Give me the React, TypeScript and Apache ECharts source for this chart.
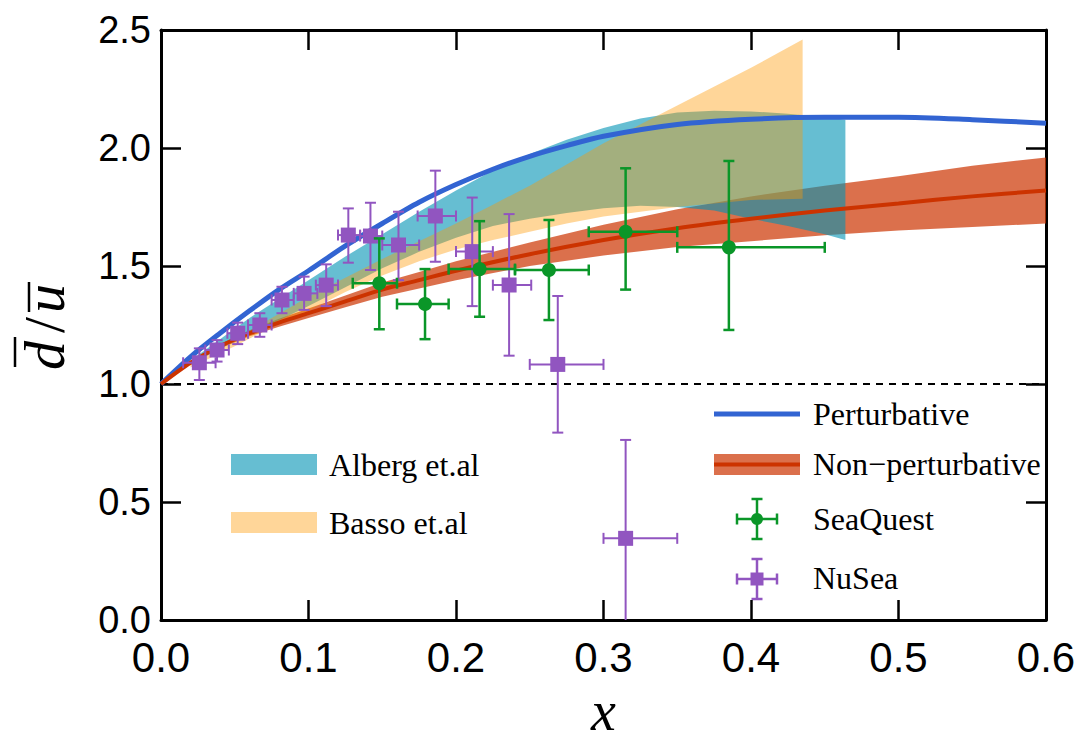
import React, { useEffect, useRef } from "react";
import * as echarts from "echarts";

// ---------- data ----------
const xTickLabels = ["0.0", "0.1", "0.2", "0.3", "0.4", "0.5", "0.6"];
const yTickLabels = ["0.0", "0.5", "1.0", "1.5", "2.0", "2.5"];

// Perturbative curve
const pertX = [0, 0.02, 0.04, 0.06, 0.08, 0.1, 0.125, 0.15, 0.175, 0.2, 0.225, 0.25, 0.275, 0.3, 0.35, 0.4, 0.45, 0.5, 0.55, 0.6];
const pertY = [1.0, 1.115, 1.215, 1.31, 1.4, 1.48, 1.585, 1.68, 1.77, 1.845, 1.91, 1.965, 2.01, 2.05, 2.1, 2.122, 2.13, 2.13, 2.12, 2.105];

// Non-perturbative curve and band
const npX = [0, 0.02, 0.04, 0.06, 0.08, 0.1, 0.125, 0.15, 0.175, 0.2, 0.25, 0.3, 0.35, 0.4, 0.45, 0.5, 0.55, 0.6];
const npY = [1.0, 1.09, 1.16, 1.215, 1.26, 1.3, 1.35, 1.4, 1.44, 1.48, 1.55, 1.61, 1.66, 1.7, 1.735, 1.765, 1.795, 1.82];
const npHi = [1.0, 1.095, 1.17, 1.228, 1.277, 1.32, 1.375, 1.43, 1.475, 1.52, 1.6, 1.675, 1.74, 1.795, 1.84, 1.88, 1.925, 1.96];
const npLo = [1.0, 1.085, 1.15, 1.202, 1.243, 1.28, 1.325, 1.37, 1.405, 1.44, 1.5, 1.545, 1.58, 1.605, 1.63, 1.65, 1.665, 1.68];

// Alberg et.al band
const albX = [0.02, 0.04, 0.06, 0.08, 0.1, 0.125, 0.15, 0.175, 0.2, 0.225, 0.25, 0.275, 0.3, 0.325, 0.35, 0.375, 0.4, 0.425, 0.45, 0.464];
const albHi = [1.1, 1.19, 1.28, 1.36, 1.44, 1.54, 1.635, 1.73, 1.82, 1.905, 1.975, 2.035, 2.085, 2.125, 2.15, 2.158, 2.155, 2.145, 2.13, 2.12];
const albLo = [1.08, 1.15, 1.21, 1.27, 1.33, 1.41, 1.49, 1.56, 1.62, 1.67, 1.7, 1.725, 1.745, 1.755, 1.75, 1.735, 1.7, 1.67, 1.635, 1.61];

// Basso et.al band
const basX = [0.02, 0.05, 0.075, 0.1, 0.125, 0.15, 0.175, 0.2, 0.225, 0.25, 0.275, 0.3, 0.35, 0.4, 0.435];
const basHi = [1.08, 1.19, 1.28, 1.37, 1.45, 1.53, 1.605, 1.68, 1.76, 1.84, 1.93, 2.02, 2.18, 2.34, 2.46];
const basLo = [1.07, 1.16, 1.24, 1.31, 1.39, 1.46, 1.52, 1.57, 1.61, 1.645, 1.68, 1.71, 1.75, 1.78, 1.785];

// SeaQuest
const sqX = [0.148, 0.179, 0.216, 0.263, 0.315, 0.385];
const sqY = [1.427, 1.339, 1.487, 1.483, 1.645, 1.579];
const sqXLo = [0.13, 0.16, 0.195, 0.24, 0.29, 0.35];
const sqXHi = [0.16, 0.195, 0.24, 0.29, 0.35, 0.45];
const sqYLo = [1.232, 1.19, 1.285, 1.271, 1.4, 1.229];
const sqYHi = [1.617, 1.487, 1.69, 1.695, 1.914, 1.945];

// NuSea
const nsX = [0.026, 0.038, 0.052, 0.067, 0.082, 0.097, 0.112, 0.127, 0.142, 0.161, 0.186, 0.211, 0.236, 0.269, 0.315];
const nsY = [1.09, 1.144, 1.215, 1.25, 1.356, 1.384, 1.419, 1.631, 1.627, 1.589, 1.712, 1.561, 1.419, 1.083, 0.346];
const nsXLo = [0.015, 0.03, 0.045, 0.059, 0.075, 0.09, 0.105, 0.12, 0.135, 0.15, 0.174, 0.2, 0.225, 0.25, 0.3];
const nsXHi = [0.037, 0.046, 0.059, 0.075, 0.09, 0.106, 0.12, 0.135, 0.15, 0.175, 0.2, 0.225, 0.251, 0.3, 0.35];
const nsYLo = [1.017, 1.095, 1.169, 1.2, 1.3, 1.314, 1.33, 1.514, 1.483, 1.44, 1.518, 1.33, 1.12, 0.794, -0.3];
const nsYHi = [1.151, 1.186, 1.26, 1.3, 1.412, 1.455, 1.507, 1.744, 1.768, 1.73, 1.904, 1.79, 1.72, 1.373, 0.763];

const refX = [0, 0.6];
const refY = [1.0, 1.0];

// ---------- styles ----------
const BLUE = "#3264d2";
const RED = "#cc3300";
const RED_BAND = "rgba(204,51,0,0.7)";
const CYAN_BAND = "rgba(0,147,180,0.6)";
const ORANGE_BAND = "rgba(255,152,0,0.4)";
const GREEN = "#0a9628";
const PURPLE = "#9155c0";
const SERIF = "'Liberation Serif', 'Times New Roman', serif";
const SANS = "'Liberation Sans', Arial, sans-serif";

function bandSeries(name: string, xs: number[], lo: number[], hi: number[], color: string, z: number) {
  return {
    type: "custom",
    name,
    z,
    silent: true,
    clip: true,
    data: xs.map((x, i) => [x, lo[i], hi[i]]),
    encode: { x: 0, y: [1, 2] },
    renderItem: (params: any, api: any) => {
      if (params.dataIndex !== 0) return null;
      const pts: number[][] = [];
      for (let i = 0; i < xs.length; i++) pts.push(api.coord([xs[i], hi[i]]));
      for (let i = xs.length - 1; i >= 0; i--) pts.push(api.coord([xs[i], lo[i]]));
      return { type: "polygon", shape: { points: pts }, style: { fill: color } };
    },
  };
}

function errSeries(
  name: string, xs: number[], ys: number[], xlo: number[], xhi: number[], ylo: number[], yhi: number[],
  color: string, marker: "circle" | "square", lw: number, z: number
) {
  return {
    type: "custom",
    name,
    z,
    clip: true,
    data: xs.map((x, i) => [x, ys[i], xlo[i], xhi[i], ylo[i], yhi[i]]),
    encode: { x: [0, 2, 3], y: [1, 4, 5] },
    renderItem: (params: any, api: any) => {
      const x = api.value(0), y = api.value(1);
      const c = api.coord([x, y]);
      const l = api.coord([api.value(2), y]);
      const r = api.coord([api.value(3), y]);
      const b = api.coord([x, api.value(4)]);
      const t = api.coord([x, api.value(5)]);
      const cap = 5.5;
      const ls = { stroke: color, lineWidth: lw };
      const children: any[] = [
        { type: "line", shape: { x1: l[0], y1: c[1], x2: r[0], y2: c[1] }, style: ls },
        { type: "line", shape: { x1: l[0], y1: c[1] - cap, x2: l[0], y2: c[1] + cap }, style: ls },
        { type: "line", shape: { x1: r[0], y1: c[1] - cap, x2: r[0], y2: c[1] + cap }, style: ls },
        { type: "line", shape: { x1: c[0], y1: t[1], x2: c[0], y2: b[1] }, style: ls },
        { type: "line", shape: { x1: c[0] - cap, y1: t[1], x2: c[0] + cap, y2: t[1] }, style: ls },
        { type: "line", shape: { x1: c[0] - cap, y1: b[1], x2: c[0] + cap, y2: b[1] }, style: ls },
      ];
      if (marker === "circle") {
        children.push({ type: "circle", shape: { cx: c[0], cy: c[1], r: 7 }, style: { fill: color } });
      } else {
        children.push({ type: "rect", shape: { x: c[0] - 7.5, y: c[1] - 7.5, width: 15, height: 15 }, style: { fill: color } });
      }
      return { type: "group", children };
    },
  };
}

function legendGraphics() {
  const txt = (x: number, y: number, s: string) => ({
    type: "text", x, y,
    style: { text: s, fill: "#000", font: `32px ${SERIF}`, verticalAlign: "middle", align: "left" },
  });
  const errMarker = (cx: number, cy: number, color: string, marker: string) => {
    const ls = { stroke: color, lineWidth: 2.5 };
    const cap = 5.5;
    const items: any[] = [
      { type: "line", shape: { x1: cx - 20, y1: cy, x2: cx + 20, y2: cy }, style: ls },
      { type: "line", shape: { x1: cx - 20, y1: cy - cap, x2: cx - 20, y2: cy + cap }, style: ls },
      { type: "line", shape: { x1: cx + 20, y1: cy - cap, x2: cx + 20, y2: cy + cap }, style: ls },
      { type: "line", shape: { x1: cx, y1: cy - 20, x2: cx, y2: cy + 20 }, style: ls },
      { type: "line", shape: { x1: cx - cap, y1: cy - 20, x2: cx + cap, y2: cy - 20 }, style: ls },
      { type: "line", shape: { x1: cx - cap, y1: cy + 20, x2: cx + cap, y2: cy + 20 }, style: ls },
    ];
    if (marker === "circle") items.push({ type: "circle", shape: { cx, cy, r: 6 }, style: { fill: color } });
    else items.push({ type: "rect", shape: { x: cx - 6.5, y: cy - 6.5, width: 13, height: 13 }, style: { fill: color } });
    return items;
  };
  return [
    { type: "rect", shape: { x: 231, y: 454, width: 86, height: 21 }, style: { fill: CYAN_BAND } },
    txt(329, 465, "Alberg et.al"),
    { type: "rect", shape: { x: 231, y: 512, width: 86, height: 21 }, style: { fill: ORANGE_BAND } },
    txt(329, 523, "Basso et.al"),
    { type: "line", shape: { x1: 714, y1: 414, x2: 800, y2: 414 }, style: { stroke: BLUE, lineWidth: 5 } },
    txt(813, 414, "Perturbative"),
    { type: "rect", shape: { x: 714, y: 454, width: 86, height: 21 }, style: { fill: RED_BAND } },
    { type: "line", shape: { x1: 714, y1: 464.5, x2: 800, y2: 464.5 }, style: { stroke: RED, lineWidth: 4 } },
    txt(813, 464, "Non\u2212perturbative"),
    ...errMarker(757, 519, GREEN, "circle"),
    txt(813, 519, "SeaQuest"),
    ...errMarker(757, 579, PURPLE, "square"),
    txt(813, 578, "NuSea"),
  ];
}

function yNameGraphic() {
  const fs = 58;
  const font = `italic ${fs}px ${SERIF}`;
  return {
    type: "group",
    x: 63,
    y: 325,
    rotation: Math.PI / 2,
    children: [
      { type: "text", x: -45, y: -19, style: { text: "d", font, fill: "#000", verticalAlign: "middle", align: "left" } },
      { type: "text", x: 0, y: -19, style: { text: "/", font: `${fs}px ${SERIF}`, fill: "#000", verticalAlign: "middle", align: "center" } },
      { type: "text", x: 12, y: -19, style: { text: "u", font, fill: "#000", verticalAlign: "middle", align: "left" } },
      { type: "line", shape: { x1: -42, y1: -48, x2: -12, y2: -48 }, style: { stroke: "#000", lineWidth: 2.5 } },
      { type: "line", shape: { x1: 13, y1: -34, x2: 43, y2: -34 }, style: { stroke: "#000", lineWidth: 2.5 } },
    ],
  };
}

export default function App() {
  const ref = useRef<HTMLDivElement>(null);
  useEffect(() => {
    if (!ref.current) return;
    const chart = echarts.init(ref.current, null, { renderer: "svg", width: 1081, height: 741 });
    const axisLine = { show: true, onZero: false, lineStyle: { color: "#000", width: 3 } };
    const axisTick = { show: true, inside: true, length: 20, lineStyle: { color: "#000", width: 2.5 } };
    const baseX = { type: "value", min: 0, max: 0.6, interval: 0.1, splitLine: { show: false }, axisLine, axisTick };
    const baseY = { type: "value", min: 0, max: 2.5, interval: 0.5, splitLine: { show: false }, axisLine, axisTick };
    chart.setOption({
      animation: false,
      backgroundColor: "#fff",
      grid: { left: 161, right: 35, top: 30, bottom: 121, containLabel: false, outerBoundsMode: "none" },
      xAxis: [
        {
          ...baseX,
          position: "bottom",
          axisLabel: {
            show: true, margin: 16, color: "#000", fontSize: 42, fontFamily: SANS,
            formatter: (_v: number, i: number) => xTickLabels[i],
          },
          name: "x",
          nameLocation: "middle",
          nameGap: 76,
          nameTextStyle: { fontFamily: SERIF, fontStyle: "italic", fontSize: 56, lineHeight: 56, color: "#000", verticalAlign: "middle" },
        },
        { ...baseX, position: "top", axisLabel: { show: false } },
      ],
      yAxis: [
        {
          ...baseY,
          position: "left",
          axisLabel: {
            show: true, margin: 10, color: "#000", fontSize: 38, fontFamily: SANS,
            formatter: (_v: number, i: number) => yTickLabels[i],
          },
        },
        { ...baseY, position: "right", axisLabel: { show: false } },
      ],
      series: [
        bandSeries("Non-perturbative band", npX, npLo, npHi, RED_BAND, 1),
        bandSeries("Alberg et.al", albX, albLo, albHi, CYAN_BAND, 2),
        bandSeries("Basso et.al", basX, basLo, basHi, ORANGE_BAND, 3),
        {
          type: "line", name: "ref", z: 4, silent: true, showSymbol: false,
          data: refX.map((x, i) => [x, refY[i]]),
          lineStyle: { color: "#000", width: 2, type: [7, 6] },
        },
        {
          type: "line", name: "Perturbative", z: 5, silent: true, showSymbol: false, smooth: 0.3,
          data: pertX.map((x, i) => [x, pertY[i]]),
          lineStyle: { color: BLUE, width: 5 },
        },
        {
          type: "line", name: "Non-perturbative", z: 5, silent: true, showSymbol: false, smooth: 0.3,
          data: npX.map((x, i) => [x, npY[i]]),
          lineStyle: { color: RED, width: 4 },
        },
        errSeries("SeaQuest", sqX, sqY, sqXLo, sqXHi, sqYLo, sqYHi, GREEN, "circle", 2.5, 7),
        errSeries("NuSea", nsX, nsY, nsXLo, nsXHi, nsYLo, nsYHi, PURPLE, "square", 2, 6),
      ],
      graphic: [...legendGraphics(), yNameGraphic()],
    });
    return () => chart.dispose();
  }, []);
  return <div ref={ref} style={{ position: "absolute", left: 0, top: 0, width: 1081, height: 741 }} />;
}
